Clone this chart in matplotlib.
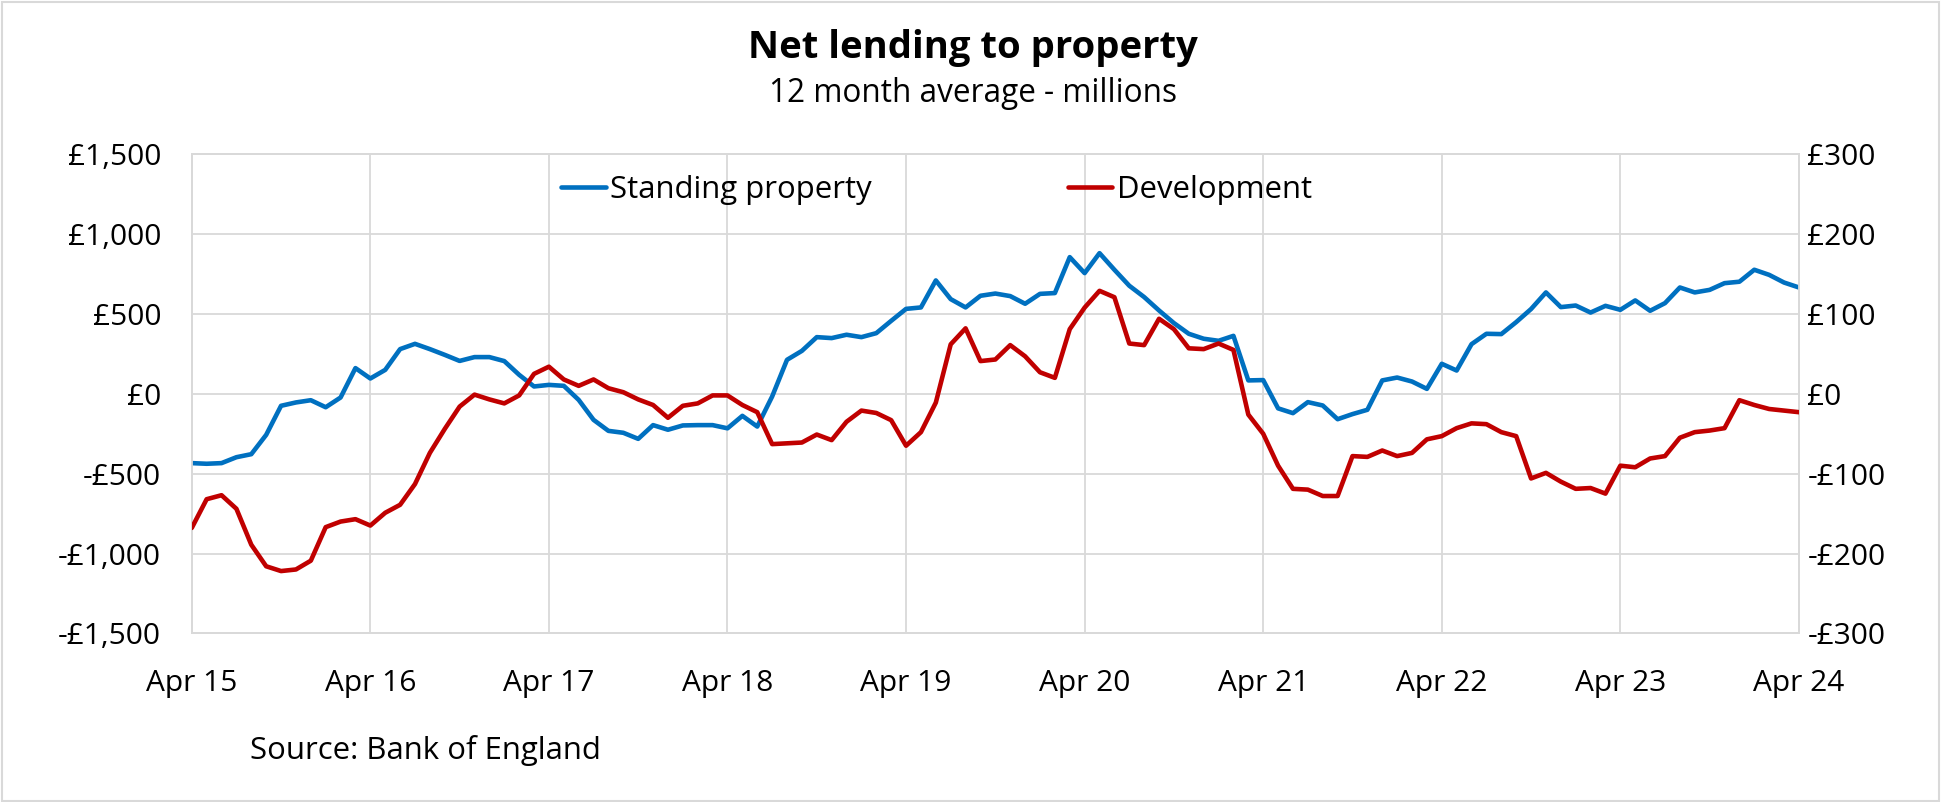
import matplotlib
matplotlib.use("Agg")
import matplotlib.pyplot as plt
from matplotlib.ticker import FuncFormatter, MultipleLocator
import numpy as np

plt.rcParams['font.family'] = ['Open Sans', 'DejaVu Sans']

# Monthly 12-month averages, Apr 2015 .. Apr 2024 (GBP millions)
standing_property = [
    -434, -438, -434, -397, -378, -257, -75, -54, -40, -84, -23, 161,
    96, 150, 280, 313, 280, 244, 206, 230, 230, 205, 119, 46,
    56, 50, -38, -163, -232, -244, -282, -196, -225, -198, -196, -196,
    -216, -138, -205, -17, 213, 269, 355, 349, 370, 355, 380, 457,
    532, 541, 710, 593, 541, 614, 628, 612, 564, 626, 631, 856,
    756, 881, 777, 677, 606, 522, 443, 376, 345, 332, 363, 84,
    86, -91, -121, -52, -73, -159, -127, -100, 84, 102, 77, 31,
    188, 146, 311, 376, 374, 449, 531, 635, 543, 553, 509, 551,
    526, 585, 520, 568, 666, 635, 651, 693, 702, 777, 745, 697,
    666,
]
development = [
    -168, -132, -127, -144, -189, -216, -222, -220, -209, -167, -160, -157,
    -165, -149, -139, -113, -74, -44, -16, -1, -7, -12, -2, 25,
    34, 18, 10, 18, 7, 2, -7, -14, -30, -15, -12, -2,
    -2, -14, -23, -63, -62, -61, -51, -58, -35, -21, -24, -33,
    -65, -48, -11, 62, 82, 41, 43, 61, 47, 27, 20, 81,
    108, 129, 121, 63, 61, 94, 81, 57, 56, 63, 55, -26,
    -50, -90, -119, -120, -128, -128, -78, -79, -71, -78, -74, -57,
    -53, -43, -37, -38, -48, -53, -106, -99, -110, -119, -118, -125,
    -90, -92, -81, -78, -55, -48, -46, -43, -8, -14, -19, -21,
    -23,
]
year_labels = ['Apr 15', 'Apr 16', 'Apr 17', 'Apr 18', 'Apr 19',
               'Apr 20', 'Apr 21', 'Apr 22', 'Apr 23', 'Apr 24']

BLUE = '#0070C0'
RED = '#C00000'
GRID = '#D9D9D9'
FS = 21.5
FS_TEXT = 22.4

fig = plt.figure(figsize=(19.41, 8.02), dpi=100)
ax = fig.add_axes([0.0988, 0.2103, 0.8280, 0.5973])
ax2 = ax.twinx()

months = np.arange(len(standing_property))
ln1, = ax.plot(months, standing_property, color=BLUE, lw=3.3,
               solid_joinstyle='round', solid_capstyle='round',
               label='Standing property', zorder=3)
ln2, = ax2.plot(months, development, color=RED, lw=3.3,
                solid_joinstyle='round', solid_capstyle='round',
                label='Development', zorder=3)

ax.set_xlim(0, len(months) - 1)
ax.set_ylim(-1500, 1500)
ax2.set_ylim(-300, 300)
ax.yaxis.set_major_locator(MultipleLocator(500))
ax2.yaxis.set_major_locator(MultipleLocator(100))
ax.set_xticks(np.arange(0, len(months), 12))
ax.set_xticklabels(year_labels)


def money(v, _):
    v = int(round(v))
    return f"£{v:,}" if v >= 0 else f"-£{abs(v):,}"


ax.yaxis.set_major_formatter(FuncFormatter(money))
ax2.yaxis.set_major_formatter(FuncFormatter(money))

ax.grid(True, color=GRID, lw=1.3, zorder=0)
ax.set_axisbelow(True)
for a in (ax, ax2):
    for s in a.spines.values():
        s.set_color(GRID)
        s.set_linewidth(1.3)
    a.tick_params(length=0, labelsize=FS, colors='black')
ax.tick_params(axis='y', pad=22)
ax2.tick_params(axis='y', pad=6)
ax.tick_params(axis='x', pad=26)

ax.legend(handles=[ln1, ln2], loc='center left', bbox_to_anchor=(0.230, 0.925),
          ncol=2, frameon=False, fontsize=FS_TEXT, handlelength=1.42,
          handletextpad=0.15, columnspacing=6.3, borderpad=0,
          borderaxespad=0)

fig.text(0.5015, 0.940, 'Net lending to property', ha='center', va='center',
         fontsize=27.5, fontweight='bold')
fig.text(0.5015, 0.883, '12 month average - millions', ha='center',
         va='center', fontsize=22.7)
fig.text(0.129, 0.064, 'Source: Bank of England', ha='left', va='center',
         fontsize=FS_TEXT)

fig.patches.append(plt.Rectangle((0.001, 0.001), 0.998, 0.997,
                                 transform=fig.transFigure, fill=False,
                                 edgecolor=GRID, lw=1.5))

fig.savefig('out.png', dpi=100)
